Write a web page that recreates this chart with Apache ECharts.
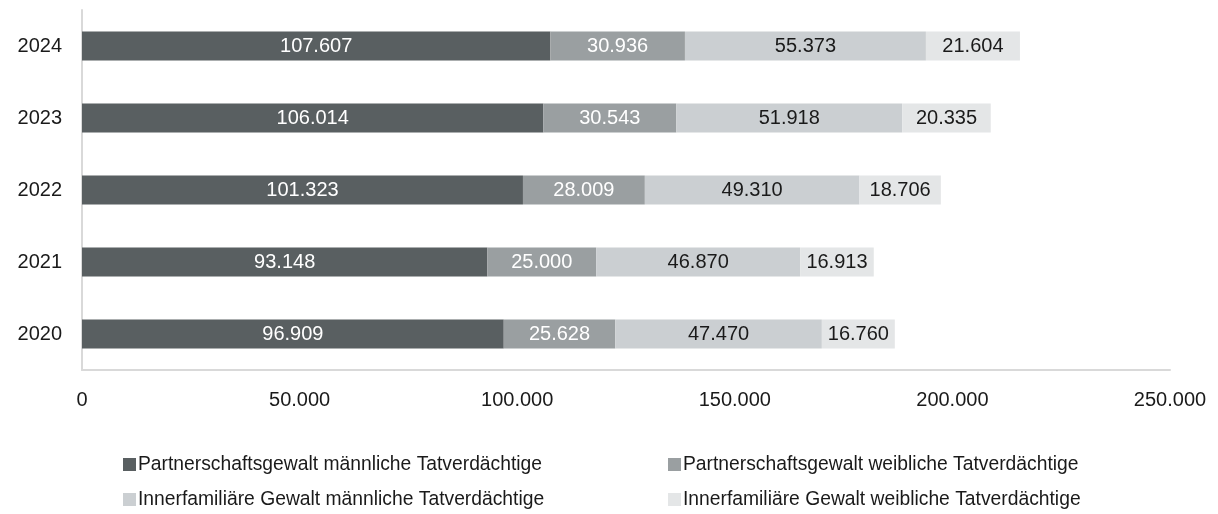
<!DOCTYPE html>
<html>
<head>
<meta charset="utf-8">
<script src="https://cdn.jsdelivr.net/npm/echarts@6/dist/echarts.min.js"></script>
<style>
  html, body { margin: 0; padding: 0; background: #fff; }
  #main { width: 1218px; height: 514px; }
</style>
</head>
<body>
<div id="main"></div>
<script>
// Daten
var jahre = ['2020', '2021', '2022', '2023', '2024'];
var partnerMaennlich = [96909, 93148, 101323, 106014, 107607];
var partnerWeiblich = [25628, 25000, 28009, 30543, 30936];
var familieMaennlich = [47470, 46870, 49310, 51918, 55373];
var familieWeiblich = [16760, 16913, 18706, 20335, 21604];
var serienNamen = [
    'Partnerschaftsgewalt männliche Tatverdächtige',
    'Partnerschaftsgewalt weibliche Tatverdächtige',
    'Innerfamiliäre Gewalt männliche Tatverdächtige',
    'Innerfamiliäre Gewalt weibliche Tatverdächtige'
];
var farben = ['#595f61', '#9a9fa1', '#cbcfd2', '#e4e6e7'];
var labelFarben = ['#ffffff', '#ffffff', '#1a1a1a', '#1a1a1a'];

var schrift = 'Liberation Sans';

function zahl(v) {
    return String(v).replace(/\B(?=(\d{3})+(?!\d))/g, '.');
}

var myChart = echarts.init(document.getElementById('main'));

var werte = [partnerMaennlich, partnerWeiblich, familieMaennlich, familieWeiblich];
var series = werte.map(function (d, i) {
    return {
        name: serienNamen[i],
        type: 'bar',
        stack: 'gesamt',
        barWidth: 29,
        data: d,
        itemStyle: { color: farben[i] },
        label: {
            show: true,
            position: 'inside',
            color: labelFarben[i],
            fontFamily: schrift,
            fontSize: 20,
            formatter: function (p) { return zahl(p.value); }
        }
    };
});

// Legende: zwei Spalten, zwei Zeilen
var legendePos = [[118, 450], [663, 450], [118, 485], [663, 485]];
var legenden = serienNamen.map(function (n, i) {
    return {
        left: legendePos[i][0],
        top: legendePos[i][1],
        itemWidth: 13,
        itemHeight: 13,
        icon: 'rect',
        textStyle: { fontFamily: schrift, fontSize: 19.3, color: '#1a1a1a', padding: [0, 0, 0, -3] },
        data: [n]
    };
});

var option = {
    animation: false,
    color: farben,
    grid: { left: 82, right: 48, top: 10, bottom: 144, containLabel: false },
    legend: legenden,
    xAxis: {
        type: 'value',
        min: 0,
        max: 250000,
        interval: 50000,
        axisLine: { show: true, lineStyle: { color: '#d9d9d9', width: 2 } },
        axisTick: { show: false },
        splitLine: { show: false },
        axisLabel: {
            margin: 20,
            color: '#1a1a1a',
            fontFamily: schrift,
            fontSize: 20,
            formatter: function (v) { return zahl(v); }
        }
    },
    yAxis: {
        type: 'category',
        data: jahre,
        axisLine: { show: true, lineStyle: { color: '#d9d9d9', width: 2 } },
        axisTick: { show: false },
        axisLabel: {
            margin: 20,
            color: '#1a1a1a',
            fontFamily: schrift,
            fontSize: 20
        }
    },
    series: series
};

myChart.setOption(option);
</script>
</body>
</html>
